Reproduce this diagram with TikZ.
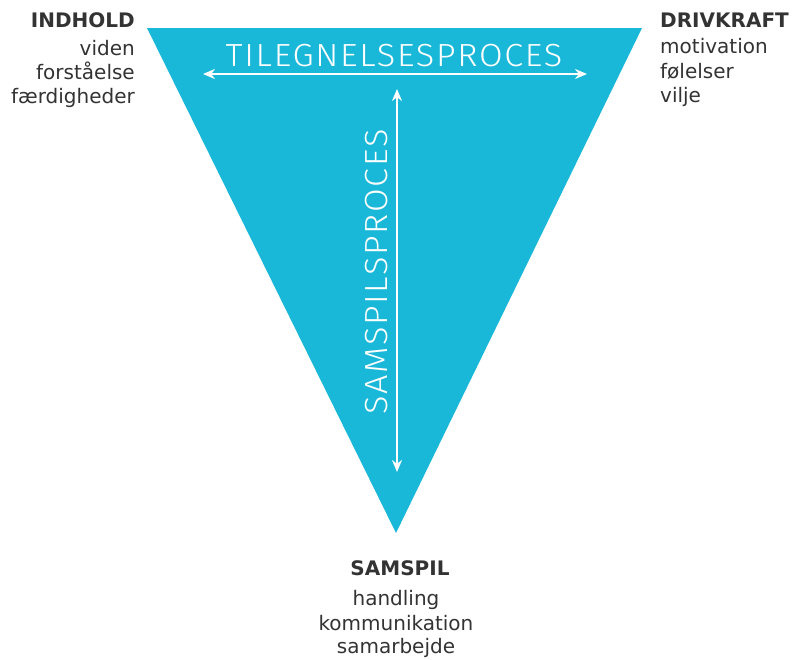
\documentclass[tikz,border=0pt]{standalone}
\usepackage{fontspec}
\setmainfont{DejaVu Sans}
\newfontfamily\lightfont[LetterSpace=5]{Fira Sans Light}
\usetikzlibrary{arrows.meta}
\definecolor{tri}{HTML}{19B8D9}
\definecolor{ink}{HTML}{333333}
\newcommand{\widen}[1]{\scalebox{1.07}[1]{#1}}
\begin{document}
\begin{tikzpicture}[x=1pt,y=-1pt,
  head/.style={font=\fontsize{20}{24}\selectfont\bfseries, text=ink, inner sep=0pt},
  item/.style={font=\fontsize{20}{24}\selectfont, text=ink, inner sep=0pt},
  proc/.style={font=\lightfont\fontsize{32}{32}\selectfont, text=white, inner sep=0pt},
  twoway/.style={draw=white, line width=2pt, {Stealth[length=12pt,width=10pt]}-{Stealth[length=12pt,width=10pt]}}]
\useasboundingbox (0,0) rectangle (795,659);
% the funnel
\fill[tri] (147,28) -- (642,28) -- (396,533) -- cycle;
% acquisition process across the top
\coordinate (hl) at (203,74);
\coordinate (hr) at (587,74);
\draw[twoway] (hl) -- (hr);
\node[proc, anchor=base] (tp) at (394,66) {\widen{TILEGNELSESPROCES}};
% interaction process down the middle
\coordinate (vt) at (397,89);
\coordinate (vb) at (397,472);
\draw[twoway] (vt) -- (vb);
\node[proc, anchor=base, rotate=90] (sp) at (387,272) {\widen{SAMSPILSPROCES}};
% upper left corner
\node[head, anchor=base east] (ind) at (135,27.5) {INDHOLD};
\node[item, anchor=base east] (ind1) at (135,55) {viden};
\node[item, anchor=base east] (ind2) at (135,79) {forståelse};
\node[item, anchor=base east] (ind3) at (135,103) {færdigheder};
% upper right corner
\node[head, anchor=base west] (drv) at (660,27.5) {DRIVKRAFT};
\node[item, anchor=base west] (drv1) at (660,53.5) {motivation};
\node[item, anchor=base west] (drv2) at (660,78.5) {følelser};
\node[item, anchor=base west] (drv3) at (660,102) {vilje};
% bottom corner
\node[head, anchor=base] (sam) at (400,575) {SAMSPIL};
\node[item, anchor=base] (sam1) at (396,605) {handling};
\node[item, anchor=base] (sam2) at (396,630) {kommunikation};
\node[item, anchor=base] (sam3) at (396,653) {samarbejde};
\end{tikzpicture}
\end{document}
